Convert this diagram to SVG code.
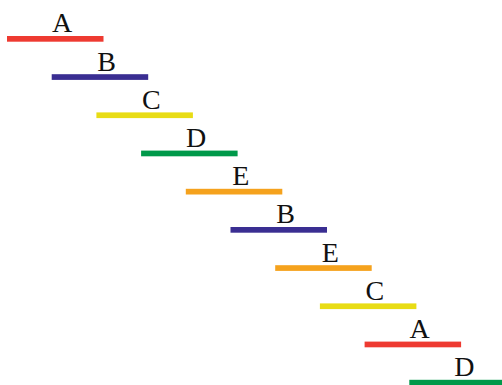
<svg xmlns="http://www.w3.org/2000/svg" width="502" height="385" viewBox="0 0 502 385">
  <style>
    .bar { stroke: none; }
    .lbl { font-family: "Liberation Serif", "DejaVu Serif", serif; font-size: 28px; fill: #111; text-anchor: middle; }
    .red { fill: #EE3A31; }
    .blue { fill: #3A2E92; }
    .yellow { fill: #E8DC15; }
    .green { fill: #00994A; }
    .orange { fill: #F5A21D; }
  </style>
  <rect width="502" height="385" fill="#fff"/>
  <!-- each step: bar with its label above, offset diagonally -->
  <g id="step1" transform="translate(7,36)"><rect class="bar red" width="96.5" height="5.7"/><text class="lbl" x="55" y="-3.6">A</text></g>
  <g id="step2" transform="translate(51.7,74.2)"><rect class="bar blue" width="96.5" height="5.7"/><text class="lbl" x="55" y="-3.6">B</text></g>
  <g id="step3" transform="translate(96.4,112.4)"><rect class="bar yellow" width="96.5" height="5.7"/><text class="lbl" x="55" y="-3.6">C</text></g>
  <g id="step4" transform="translate(141.1,150.6)"><rect class="bar green" width="96.5" height="5.7"/><text class="lbl" x="55" y="-3.6">D</text></g>
  <g id="step5" transform="translate(185.8,188.8)"><rect class="bar orange" width="96.5" height="5.7"/><text class="lbl" x="55" y="-3.6">E</text></g>
  <g id="step6" transform="translate(230.5,227)"><rect class="bar blue" width="96.5" height="5.7"/><text class="lbl" x="55" y="-3.6">B</text></g>
  <g id="step7" transform="translate(275.2,265.2)"><rect class="bar orange" width="96.5" height="5.7"/><text class="lbl" x="55" y="-3.6">E</text></g>
  <g id="step8" transform="translate(319.9,303.4)"><rect class="bar yellow" width="96.5" height="5.7"/><text class="lbl" x="55" y="-3.6">C</text></g>
  <g id="step9" transform="translate(364.6,341.6)"><rect class="bar red" width="96.5" height="5.7"/><text class="lbl" x="55" y="-3.6">A</text></g>
  <g id="step10" transform="translate(409.3,379.8)"><rect class="bar green" width="96.5" height="5.7"/><text class="lbl" x="55" y="-3.6">D</text></g>
  <g id="connectors"></g>
</svg>
